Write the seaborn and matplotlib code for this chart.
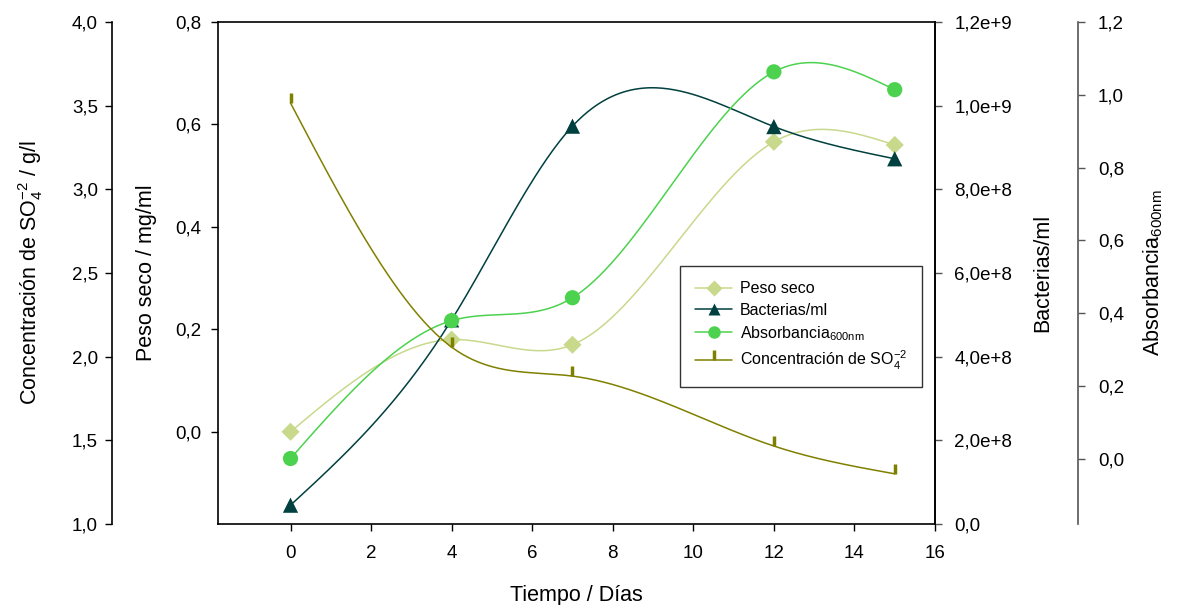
import numpy as np
import matplotlib
matplotlib.use("Agg")
import matplotlib.pyplot as plt
from matplotlib.lines import Line2D
import seaborn as sns

# ---------------- data ----------------
dias = [0, 4, 7, 12, 15]
peso_seco = [0.0, 0.18, 0.17, 0.566, 0.56]              # mg/ml
bacterias = [4.5e7, 4.88e8, 9.51e8, 9.5e8, 8.73e8]     # bacterias/ml
absorbancia = [0.0, 0.379, 0.442, 1.063, 1.014]         # A600nm
sulfato = [3.516, 2.057, 1.884, 1.466, 1.30]            # g/l SO4-2

x_ticks = [0, 2, 4, 6, 8, 10, 12, 14, 16]
peso_ticks = [0.0, 0.2, 0.4, 0.6, 0.8]
peso_labels = ["0,0", "0,2", "0,4", "0,6", "0,8"]
bact_ticks = [0, 2e8, 4e8, 6e8, 8e8, 1.0e9, 1.2e9]
bact_labels = ["0,0", "2,0e+8", "4,0e+8", "6,0e+8", "8,0e+8", "1,0e+9", "1,2e+9"]
abs_ticks = [0.0, 0.2, 0.4, 0.6, 0.8, 1.0, 1.2]
abs_labels = ["0,0", "0,2", "0,4", "0,6", "0,8", "1,0", "1,2"]
so4_ticks = [1.0, 1.5, 2.0, 2.5, 3.0, 3.5, 4.0]
so4_labels = ["1,0", "1,5", "2,0", "2,5", "3,0", "3,5", "4,0"]

c_peso = "#c8d98c"
c_bact = "#00403f"
c_abs = "#4cd24f"
c_so4 = "#808000"


def spline_curve(x, y, n=300):
    """Natural cubic spline rendering of a series (line style only)."""
    x = np.asarray(x, float)
    y = np.asarray(y, float)
    k = len(x)
    h = np.diff(x)
    A = np.zeros((k, k))
    b = np.zeros(k)
    A[0, 0] = 1
    A[-1, -1] = 1
    for i in range(1, k - 1):
        A[i, i - 1] = h[i - 1]
        A[i, i] = 2 * (h[i - 1] + h[i])
        A[i, i + 1] = h[i]
        b[i] = 6 * ((y[i + 1] - y[i]) / h[i] - (y[i] - y[i - 1]) / h[i - 1])
    M = np.linalg.solve(A, b)
    xs = np.linspace(x[0], x[-1], n)
    idx = np.clip(np.searchsorted(x, xs) - 1, 0, k - 2)
    x0, x1 = x[idx], x[idx + 1]
    hh = x1 - x0
    ys = (M[idx] * (x1 - xs) ** 3 / (6 * hh) + M[idx + 1] * (xs - x0) ** 3 / (6 * hh)
          + (y[idx] / hh - M[idx] * hh / 6) * (x1 - xs)
          + (y[idx + 1] / hh - M[idx + 1] * hh / 6) * (xs - x0))
    return xs, ys


sns.set_style("ticks")
plt.rcParams["font.family"] = ["Liberation Sans", "DejaVu Sans"]
plt.rcParams["mathtext.fontset"] = "custom"
plt.rcParams["mathtext.rm"] = "Liberation Sans"
plt.rcParams["mathtext.it"] = "Liberation Sans"
for key in ("text.color", "axes.labelcolor", "xtick.color", "ytick.color",
            "xtick.labelcolor", "ytick.labelcolor"):
    plt.rcParams[key] = "black"

fig = plt.figure(figsize=(11.77, 6.05), dpi=100)
ax = fig.add_axes([218 / 1177, 1 - 524 / 605, 717 / 1177, 502 / 605])
ax_b = ax.twinx()
ax_a = ax.twinx()
ax_s = ax.twinx()

TICK_FS = 13.5
LAB_FS = 15.5
LW = 1.1

# --- Peso seco (main axes)
xs, ys = spline_curve(dias, peso_seco)
sns.lineplot(x=xs, y=ys, ax=ax, color=c_peso, linewidth=LW, legend=False)
sns.scatterplot(x=dias, y=peso_seco, ax=ax, color=c_peso, marker="D", s=85,
                edgecolor="none", zorder=5, legend=False)

# --- Bacterias
xs, ys = spline_curve(dias, bacterias)
sns.lineplot(x=xs, y=ys, ax=ax_b, color=c_bact, linewidth=LW, legend=False)
sns.scatterplot(x=dias, y=bacterias, ax=ax_b, color=c_bact, marker="^", s=120,
                edgecolor="none", zorder=5, legend=False)

# --- Absorbancia
xs, ys = spline_curve(dias, absorbancia)
sns.lineplot(x=xs, y=ys, ax=ax_a, color=c_abs, linewidth=LW, legend=False)
sns.scatterplot(x=dias, y=absorbancia, ax=ax_a, color=c_abs, marker="o", s=120,
                edgecolor="none", zorder=5, legend=False)

# --- Sulfato
xs, ys = spline_curve(dias, sulfato)
sns.lineplot(x=xs, y=ys, ax=ax_s, color=c_so4, linewidth=LW, legend=False)
ax_s.plot(dias, sulfato, ls="none", marker=2, ms=7, mew=2.5, color=c_so4)

# ---------------- axes ----------------
ax.set_xlim(-1.8, 16)
ax.set_ylim(-0.18, 0.8)
ax_b.set_ylim(0, 1.2e9)
ax_a.set_ylim(-0.18, 1.2)
ax_s.set_ylim(1.0, 4.0)

ax.set_xticks(x_ticks)
ax.set_xticklabels([str(t) for t in x_ticks])
ax.set_yticks(peso_ticks)
ax.set_yticklabels(peso_labels)
ax_b.set_yticks(bact_ticks)
ax_b.set_yticklabels(bact_labels)
ax_a.set_yticks(abs_ticks)
ax_a.set_yticklabels(abs_labels)
ax_s.set_yticks(so4_ticks)
ax_s.set_yticklabels(so4_labels)

for a in (ax, ax_b, ax_a, ax_s):
    for sp in a.spines.values():
        sp.set_linewidth(1.2)
        sp.set_color("black")

ax.tick_params(axis="x", direction="out", length=5, width=1, pad=10, labelsize=TICK_FS,
               colors="black")
ax.tick_params(axis="y", direction="out", length=5, width=1, pad=7, labelsize=TICK_FS,
               colors="black")
ax.spines["top"].set_visible(True)
ax.spines["right"].set_visible(True)

ax_b.tick_params(axis="y", direction="out", length=5, width=1, pad=9, labelsize=TICK_FS,
                 color="#555555", labelcolor="black")
for s in ("left", "top", "bottom"):
    ax_b.spines[s].set_visible(False)

ax_a.spines["right"].set_position(("axes", 1.2))
ax_a.spines["right"].set_color("#555555")
ax_a.tick_params(axis="y", direction="out", length=5, width=1, pad=9, labelsize=TICK_FS,
                 color="#555555", labelcolor="black")
for s in ("left", "top", "bottom"):
    ax_a.spines[s].set_visible(False)

ax_s.yaxis.tick_left()
ax_s.yaxis.set_label_position("left")
ax_s.spines["left"].set_position(("axes", -0.148))
ax_s.spines["left"].set_visible(True)
for s in ("right", "top", "bottom"):
    ax_s.spines[s].set_visible(False)
ax_s.tick_params(axis="y", direction="out", length=5, width=1, pad=5, labelsize=TICK_FS,
                 colors="black")

# ---------------- labels ----------------
ax.set_xlabel("Tiempo / Días", fontsize=LAB_FS, color="black")
ax.xaxis.set_label_coords(0.5, -0.142)
ax.xaxis.label.set_verticalalignment("center")

ax.set_ylabel("Peso seco / mg/ml", fontsize=LAB_FS, color="black")
ax_b.set_ylabel("Bacterias/ml", fontsize=LAB_FS, color="black")
ax_a.set_ylabel(r"Absorbancia$_{\mathrm{600nm}}$", fontsize=LAB_FS, color="black")
ax_s.set_ylabel(r"Concentración de SO$_4^{\mathrm{-2}}$ / g/l", fontsize=LAB_FS, color="black")

for a, xpos in ((ax, -0.1004), (ax_b, 1.1506), (ax_a, 1.305), (ax_s, -0.262)):
    a.yaxis.set_label_coords(xpos, 0.5)
    a.yaxis.label.set_rotation(90)
    a.yaxis.label.set_verticalalignment("center")
    a.yaxis.label.set_horizontalalignment("center")

# ---------------- legend ----------------
handles = [
    Line2D([], [], color=c_peso, marker="D", ms=8, mec="none", lw=LW),
    Line2D([], [], color=c_bact, marker="^", ms=9, mec="none", lw=LW),
    Line2D([], [], color=c_abs, marker="o", ms=9, mec="none", lw=LW),
    Line2D([], [], color=c_so4, marker=2, ms=7, mew=2.5, lw=LW),
]
labels = ["Peso seco", "Bacterias/ml", r"Absorbancia$_{\mathrm{600nm}}$",
          r"Concentración de SO$_4^{\mathrm{-2}}$"]
leg = ax_s.legend(handles, labels, loc="upper left",
                  bbox_to_anchor=((680 - 218) / 717, (524 - 266) / 502),
                  frameon=True, fancybox=False, edgecolor="black", fontsize=11.5,
                  handlelength=2.3, handletextpad=0.5, borderpad=0.95,
                  labelspacing=0.4, borderaxespad=0)
leg.get_frame().set_linewidth(1.0)
for t in leg.get_texts():
    t.set_color("black")

fig.savefig("out.png", dpi=100)
